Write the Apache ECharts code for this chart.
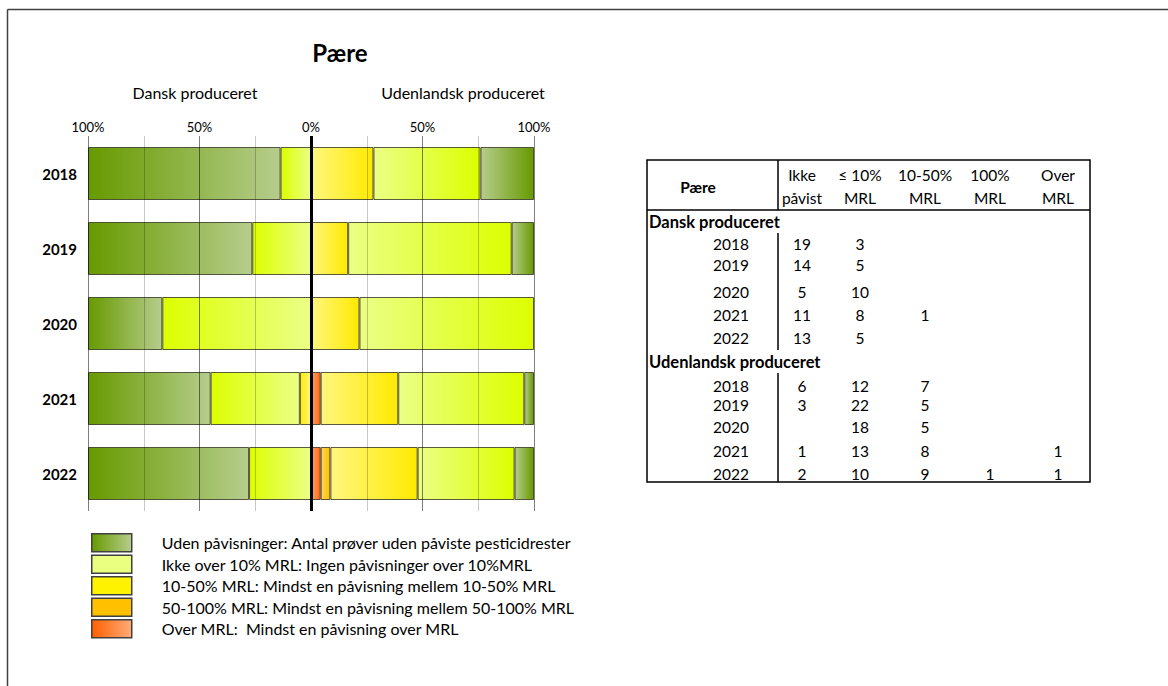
<!DOCTYPE html>
<html>
<head>
<meta charset="utf-8">
<script src="https://cdn.jsdelivr.net/npm/echarts@6/dist/echarts.min.js"></script>
<style>
  html, body { margin: 0; padding: 0; background: #fff; }
  #chart { width: 1168px; height: 686px; }
</style>
</head>
<body>
<div id="chart"></div>
<script>
// ---------- DATA ----------
const years = ['2018', '2019', '2020', '2021', '2022'];

// Dansk produceret: antal prøver
const dkIkkePaavist = [19, 14, 5, 11, 13];
const dkUnder10 = [3, 5, 10, 8, 5];
const dk10til50 = [null, null, null, 1, null];
const dk50til100 = [null, null, null, null, null];
const dkOverMRL = [null, null, null, null, null];

// Udenlandsk produceret: antal prøver
const udIkkePaavist = [6, 3, null, 1, 2];
const udUnder10 = [12, 22, 18, 13, 10];
const ud10til50 = [7, 5, 5, 8, 9];
const ud50til100 = [null, null, null, null, 1];
const udOverMRL = [null, null, null, 1, 1];

const categoryNames = [
  'Uden påvisninger: Antal prøver uden påviste pesticidrester',
  'Ikke over 10% MRL: Ingen påvisninger over 10%MRL',
  '10-50% MRL: Mindst en påvisning mellem 10-50% MRL',
  '50-100% MRL: Mindst en påvisning mellem 50-100% MRL',
  'Over MRL:  Mindst en påvisning over MRL'
];
const tableHeaders = ['Ikke\npåvist', '≤ 10%\nMRL', '10-50%\nMRL', '100%\nMRL', 'Over\nMRL'];
const groupLabels = ['Dansk produceret', 'Udenlandsk produceret'];
const chartTitle = 'Pære';

// ---------- HELPERS ----------
function grad(c0, c1) {
  return { type: 'linear', x: 0, y: 0, x2: 1, y2: 0,
    colorStops: [{ offset: 0, color: c0 }, { offset: 1, color: c1 }] };
}
// [outer, inner] colours
const palette = [
  ['#679a00', '#b6cd8c'],
  ['#dcff00', '#ebff86'],
  ['#ffea00', '#fff67e'],
  ['#ffc000', '#ffd45c'],
  ['#ff6a1a', '#ffa062']
];
const dkSets = [dkIkkePaavist, dkUnder10, dk10til50, dk50til100, dkOverMRL];
const udSets = [udIkkePaavist, udUnder10, ud10til50, ud50til100, udOverMRL];

function totals(sets) {
  return years.map((_, i) => sets.reduce((s, a) => s + (a[i] || 0), 0));
}
const dkTot = totals(dkSets), udTot = totals(udSets);

const FONT = 'Lato, "Liberation Sans", sans-serif';
const series = [];
// order from centre outward: Over MRL, 50-100, 10-50, <=10, ikke påvist
for (let k = 4; k >= 0; k--) {
  series.push({
    name: categoryNames[k], type: 'bar', stack: 'all', barWidth: 53,
    itemStyle: { color: grad(palette[k][0], palette[k][1]), borderColor: 'rgba(50,50,30,0.8)', borderWidth: 1 },
    emphasis: { disabled: true },
    data: dkSets[k].map((v, i) => v == null ? null : -v / dkTot[i] * 100)
  });
}
for (let k = 4; k >= 0; k--) {
  series.push({
    name: categoryNames[k], type: 'bar', stack: 'all', barWidth: 53,
    itemStyle: { color: grad(palette[k][1], palette[k][0]), borderColor: 'rgba(50,50,30,0.8)', borderWidth: 1 },
    emphasis: { disabled: true },
    data: udSets[k].map((v, i) => v == null ? null : v / udTot[i] * 100)
  });
}
// centre line at 0
series.push({
  type: 'line', data: [], z: 10, silent: true,
  markLine: { symbol: 'none', silent: true, label: { show: false },
    lineStyle: { color: '#000', width: 3, type: 'solid' },
    data: [{ xAxis: 0 }] }
});

// ---------- TABLE (graphic) ----------
const T = { left: 647, right: 1090, top: 160, bottom: 482, headBottom: 210, divX: 778 };
const colX = [802, 860, 925, 990, 1058];
const headY = [175, 198];
const dkRowY = [244, 265, 292, 315, 338];
const udRowY = [386, 405, 427, 451, 474];
const groupY = [222, 362];
const yearRight = 749;
const TFS = 15.5;

const g = [];
function txt(x, y, text, opt) {
  opt = opt || {};
  g.push({ type: 'text', x: x, y: y, silent: true,
    style: { text: text, fill: '#000', fontFamily: FONT, fontSize: opt.size || TFS,
      fontWeight: opt.bold ? 'bold' : 'normal', align: opt.align || 'center', verticalAlign: 'middle' } });
}
function line(x1, y1, x2, y2, w, c) {
  g.push({ type: 'line', silent: true, shape: { x1, y1, x2, y2 }, style: { stroke: c || '#000', lineWidth: w || 1 } });
}
// frame of the whole picture
line(7.5, 9.5, 1168, 9.5, 1.5, '#404040');
line(7.5, 9.5, 7.5, 686, 1.5, '#404040');
// title & subtitles
txt(340, 52, chartTitle, { size: 24, bold: true });
txt(195, 92, groupLabels[0], { size: 16 });
txt(463, 92, groupLabels[1], { size: 16 });

// table frame
g.push({ type: 'rect', silent: true, shape: { x: T.left, y: T.top, width: T.right - T.left, height: T.bottom - T.top },
  style: { fill: 'none', stroke: '#000', lineWidth: 1.5 } });
line(T.left, T.headBottom, T.right, T.headBottom, 1.5);
line(T.divX, T.top, T.divX, T.headBottom, 1.5);
line(T.divX, 233, T.divX, 350, 1.5);
line(T.divX, 373, T.divX, T.bottom, 1.5);
txt(698, 187, chartTitle, { bold: true });
tableHeaders.forEach((h, j) => {
  const parts = h.split('\n');
  txt(colX[j], headY[0], parts[0]);
  txt(colX[j], headY[1], parts[1]);
});
txt(649, groupY[0], groupLabels[0], { bold: true, align: 'left', size: 16.5 });
txt(649, groupY[1], groupLabels[1], { bold: true, align: 'left', size: 16.5 });
years.forEach((yr, i) => {
  txt(yearRight, dkRowY[i], yr, { align: 'right' });
  txt(yearRight, udRowY[i], yr, { align: 'right' });
  dkSets.forEach((a, j) => { if (a[i] != null) txt(colX[j], dkRowY[i], String(a[i])); });
  udSets.forEach((a, j) => { if (a[i] != null) txt(colX[j], udRowY[i], String(a[i])); });
});

// ---------- CHART ----------
const chart = echarts.init(document.getElementById('chart'), null, { renderer: 'svg' });
chart.setOption({
  animation: false,
  backgroundColor: '#fff',
  textStyle: { fontFamily: FONT },
  grid: { left: 88, top: 136, width: 446, height: 375, containLabel: false },
  xAxis: {
    type: 'value', min: -100, max: 100, interval: 50, position: 'top', z: 3,
    axisLine: { show: false }, axisTick: { show: false },
    axisLabel: { formatter: v => Math.abs(v) + '%', fontSize: 13, color: '#000', margin: 3, fontFamily: FONT },
    splitLine: { show: true, lineStyle: { color: 'rgba(0,0,0,0.5)', width: 1 } },
    minorTick: { show: false, splitNumber: 2 },
    minorSplitLine: { show: true, lineStyle: { color: 'rgba(0,0,0,0.22)', width: 1 } }
  },
  yAxis: {
    type: 'category', data: years, inverse: true,
    axisLine: { show: false }, axisTick: { show: false }, splitLine: { show: false },
    axisLabel: { fontSize: 15, fontWeight: 'bold', color: '#000', margin: 11, fontFamily: FONT }
  },
  legend: {
    orient: 'vertical', left: 91, top: 533, padding: 0, itemWidth: 40, itemHeight: 18, itemGap: 2,
    icon: 'rect', selectedMode: false,
    textStyle: { fontSize: 16, color: '#000', fontFamily: FONT, padding: [0, 0, 0, 25] },
    data: [
      { name: categoryNames[0], itemStyle: { color: grad('#679a00', '#b6cd8c'), borderColor: '#404040', borderWidth: 1.5 } },
      { name: categoryNames[1], itemStyle: { color: '#eaff80', borderColor: '#404040', borderWidth: 1.5 } },
      { name: categoryNames[2], itemStyle: { color: '#fff200', borderColor: '#404040', borderWidth: 1.5 } },
      { name: categoryNames[3], itemStyle: { color: '#ffc000', borderColor: '#404040', borderWidth: 1.5 } },
      { name: categoryNames[4], itemStyle: { color: grad('#ff6000', '#ffac78'), borderColor: '#404040', borderWidth: 1.5 } }
    ]
  },
  graphic: g,
  series: series
});
</script>
</body>
</html>
